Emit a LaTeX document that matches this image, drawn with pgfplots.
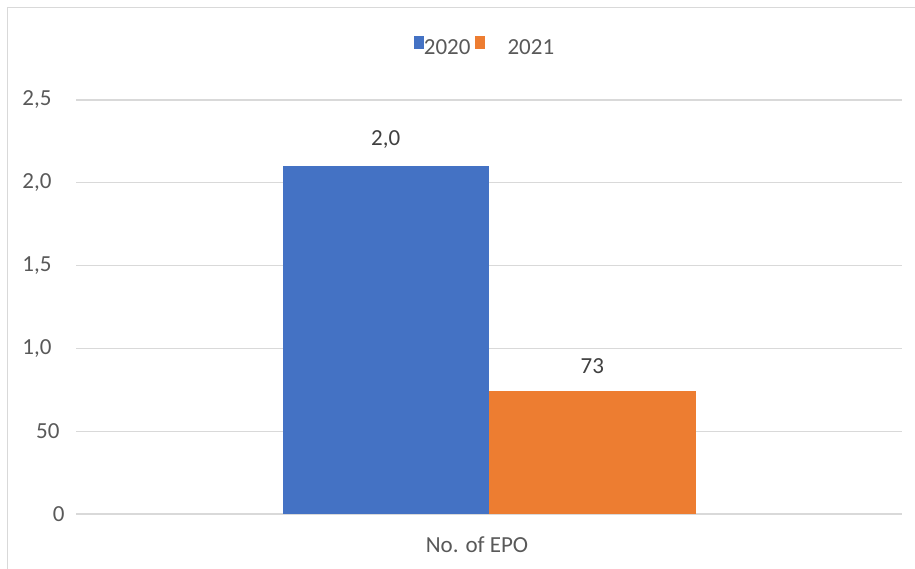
\documentclass[border=0pt]{standalone}
\usepackage{pgfplots}
\pgfplotsset{compat=1.18}
\usepackage{fontspec}
\setmainfont{Carlito}
\definecolor{cblue}{HTML}{4472C4}
\definecolor{corange}{HTML}{ED7D31}
\definecolor{gridc}{HTML}{D9D9D9}
\definecolor{txt}{HTML}{595959}
\definecolor{lbl}{HTML}{404040}
\begin{document}
\begin{tikzpicture}[font=\fontsize{23bp}{27bp}\selectfont]
\useasboundingbox (0bp,0bp) rectangle (915bp,569bp);
\draw[gridc, line width=1.2bp] (7.5bp,0bp) -- (7.5bp,561.5bp) -- (915bp,561.5bp);
\begin{axis}[
  at={(76bp,55bp)}, anchor=south west,
  scale only axis, width=826bp, height=414bp,
  xmin=-1, xmax=1, ymin=0, ymax=2.5,
  ytick={0,0.5,1,1.5,2,2.5},
  yticklabels={0,50\rule{5bp}{0pt},{1,0\rule{13bp}{0pt}},{1,5\rule{13bp}{0pt}},{2,0\rule{13bp}{0pt}},{2,5\rule{13bp}{0pt}}},
  xtick={0}, xticklabels={No. of EPO},
  axis line style={draw=none}, major tick length=0,
  ymajorgrids, grid style={gridc, line width=1.3bp},
  tick label style={text=txt, font=\fontsize{23bp}{27bp}\selectfont},
  yticklabel style={xshift=-8bp},
  xticklabel style={yshift=-19bp, xshift=-12bp},
  ybar, bar width=0.5,
  nodes near coords, point meta=explicit symbolic,
  nodes near coords style={text=lbl, font=\fontsize{23bp}{27bp}\selectfont, yshift=14bp},
  legend columns=2,
  legend style={at={(0.494,1.128)}, anchor=center, draw=none, fill=none,
    font=\fontsize{23bp}{27bp}\selectfont, text=txt,
    nodes={inner xsep=0pt}, /tikz/column sep=0pt,
    /tikz/column 2/.style={column sep=4bp}},
  legend image code/.code={\fill[#1] (0bp,-1bp) rectangle (10bp,12bp);},
]
\addplot[fill=cblue, draw=none, bar shift=-0.25] table[meta=m] {
x y m
0 2.1 {2,0}
};
\addplot[fill=corange, draw=none, bar shift=0.25] table[meta=m] {
x y m
0 0.74 73
};
\legend{2020,\hspace*{23bp}2021}
\end{axis}
\end{tikzpicture}
\end{document}
